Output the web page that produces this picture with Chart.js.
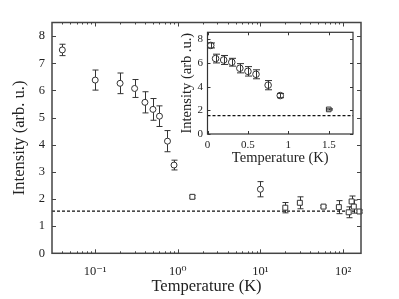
<!DOCTYPE html>
<html><head><meta charset="utf-8">
<script src="https://cdn.jsdelivr.net/npm/chart.js@4.4.1/dist/chart.umd.min.js"></script>
<style>
html,body{margin:0;padding:0;background:#fff;overflow:hidden;}
#wrap{position:relative;width:399px;height:299px;background:#fff;}
canvas{position:absolute;display:block;}
#main{left:0;top:0;}
#inset{left:176px;top:26px;}
</style></head><body>
<div id="wrap"><canvas id="main" width="399" height="299"></canvas><canvas id="inset" width="182" height="143"></canvas></div>
<script>
// ---- data ----
const lowTemps = [0.04, 0.1, 0.2, 0.3, 0.4, 0.5, 0.6, 0.75, 0.9, 10];
const lowIntensity = [7.49, 6.38, 6.26, 6.07, 5.56, 5.30, 5.05, 4.13, 3.25, 2.36];
const lowErrors = [0.21, 0.37, 0.38, 0.33, 0.39, 0.40, 0.38, 0.39, 0.18, 0.28];
const highTemps = [1.5, 20, 30, 58, 89, 117, 127, 135, 158];
const highIntensity = [2.08, 1.68, 1.86, 1.72, 1.70, 1.51, 1.91, 1.72, 1.54];
const highErrors = [0.05, 0.19, 0.22, 0.04, 0.24, 0.20, 0.20, 0.24, 0.05];
const baselineLevel = 1.55;

const mainXRange = [0.03, 165];
const mainYRange = [0, 8.5];
const mainXTickValues = [0.1, 1, 10, 100];
const mainXTickLabels = ['10\u207B\u00B9', '10\u2070', '10\u00B9', '10\u00B2'];
const mainYTickValues = [0, 1, 2, 3, 4, 5, 6, 7, 8];

const insetXRange = [0, 1.8];
const insetYRange = [0, 8.6];
const insetXTickValues = [0, 0.5, 1, 1.5];
const insetXTickLabels = ['0', '0.5', '1', '1.5'];
const insetYTickValues = [0, 2, 4, 6, 8];

const xTitle = 'Temperature (K)';
const mainYTitle = 'Intensity (arb. u.)';
const insetYTitle = 'Intensity (arb .u.)';

// ---- helpers ----
const FAM = "'Liberation Serif', 'DejaVu Serif', serif";
const INK = '#333';
const pts = (xs, ys) => xs.map((x, i) => ({x: x, y: ys[i]}));
const noPad = s => { s.paddingTop = 0; s.paddingBottom = 0; s.paddingLeft = 0; s.paddingRight = 0; };

function errorBarPlugin(hook, cap) {
  return {
    id: 'errbars',
    [hook](chart) {
      const ctx = chart.ctx, ys = chart.scales.y;
      ctx.save();
      ctx.strokeStyle = INK; ctx.lineWidth = 1;
      chart.data.datasets.forEach((ds, di) => {
        if (!ds.errors) return;
        const meta = chart.getDatasetMeta(di);
        meta.data.forEach((pt, i) => {
          const v = ds.data[i].y, e = ds.errors[i];
          const y1 = ys.getPixelForValue(v + e), y2 = ys.getPixelForValue(v - e);
          const x = Math.round(pt.x) + 0.5;
          ctx.beginPath();
          ctx.moveTo(x, y1); ctx.lineTo(x, y2);
          ctx.moveTo(x - cap, y1); ctx.lineTo(x + cap, y1);
          ctx.moveTo(x - cap, y2); ctx.lineTo(x + cap, y2);
          ctx.stroke();
        });
      });
      ctx.restore();
    }
  };
}

function framePlugin(cfg) {
  return {
    id: 'frame',
    afterDraw(chart) {
      const ctx = chart.ctx, a = chart.chartArea;
      const xs = chart.scales.x, ys = chart.scales.y;
      ctx.save();
      ctx.strokeStyle = cfg.color; ctx.lineWidth = 1;
      ctx.beginPath();
      cfg.xTicks.forEach(([v, len]) => {
        const p = Math.round(xs.getPixelForValue(v)) + 0.5;
        ctx.moveTo(p, a.bottom); ctx.lineTo(p, a.bottom - len);
        ctx.moveTo(p, a.top); ctx.lineTo(p, a.top + len);
      });
      cfg.yTicks.forEach(([v, len]) => {
        const p = Math.round(ys.getPixelForValue(v)) + 0.5;
        ctx.moveTo(a.left, p); ctx.lineTo(a.left + len, p);
        ctx.moveTo(a.right, p); ctx.lineTo(a.right - len, p);
      });
      ctx.stroke();
      ctx.lineWidth = cfg.lw;
      ctx.strokeRect(a.left, a.top, a.right - a.left, a.bottom - a.top);
      ctx.restore();
    }
  };
}

// tick marks for main log axis
const mainXMarks = mainXTickValues.map(v => [v, 4]);
for (let d = -2; d <= 2; d++) {
  for (let k = 2; k <= 9; k++) {
    const v = k * Math.pow(10, d);
    if (v > mainXRange[0] && v < mainXRange[1]) mainXMarks.push([v, 2]);
  }
}

const GRID = {display: false, drawTicks: false, tickLength: 0};

// ---- main chart ----
new Chart(document.getElementById('main'), {
  type: 'scatter',
  data: {
    datasets: [
      {label: 'low', data: pts(lowTemps, lowIntensity), errors: lowErrors,
       pointStyle: 'circle', pointRadius: 3, borderColor: INK, backgroundColor: '#fff',
       borderWidth: 1, clip: false},
      {label: 'high', data: pts(highTemps, highIntensity), errors: highErrors,
       pointStyle: 'rect', pointRadius: 3.5, borderColor: INK, backgroundColor: '#fff',
       borderWidth: 1, clip: false},
      {label: 'base', data: [{x: mainXRange[0], y: baselineLevel}, {x: mainXRange[1], y: baselineLevel}],
       showLine: true, pointRadius: 0, borderColor: '#111', borderWidth: 1.2, borderDash: [3, 2], fill: false}
    ]
  },
  options: {
    responsive: false, animation: false, devicePixelRatio: 1, events: [],
    layout: {padding: {top: 22.5, right: 38, left: 0, bottom: 0}},
    plugins: {legend: {display: false}, tooltip: {enabled: false}},
    scales: {
      x: {
        type: 'logarithmic', min: mainXRange[0], max: mainXRange[1],
        grid: GRID, border: {display: false},
        afterBuildTicks: s => { s.ticks = mainXTickValues.map(v => ({value: v})); },
        afterFit: s => { s.height = 45.7; noPad(s); },
        ticks: {autoSkip: false, maxRotation: 0, padding: 11, color: '#222',
                font: {family: FAM, size: 12.5}, callback: (v, i) => mainXTickLabels[i]},
        title: {display: true, text: xTitle, color: '#222', font: {family: FAM, size: 16.5},
                padding: {top: 0, bottom: 2}}
      },
      y: {
        type: 'linear', min: mainYRange[0], max: mainYRange[1],
        grid: GRID, border: {display: false},
        afterBuildTicks: s => { s.ticks = mainYTickValues.map(v => ({value: v})); },
        afterFit: s => { s.width = 52; noPad(s); },
        ticks: {autoSkip: false, padding: 7, color: '#222', font: {family: FAM, size: 12.5}},
        title: {display: true, text: mainYTitle, color: '#222', font: {family: FAM, size: 16.5},
                padding: {top: 10, bottom: 0}}
      }
    }
  },
  plugins: [errorBarPlugin('beforeDatasetsDraw', 3),
            framePlugin({color: '#444', lw: 1.5, xTicks: mainXMarks,
                         yTicks: mainYTickValues.map(v => [v, 4])})]
});

// ---- inset chart ----
const insetIdxLow = lowTemps.map((t, i) => i).filter(i => lowTemps[i] <= insetXRange[1]);
const insetIdxHigh = highTemps.map((t, i) => i).filter(i => highTemps[i] <= insetXRange[1]);

new Chart(document.getElementById('inset'), {
  type: 'scatter',
  data: {
    datasets: [
      {label: 'low', data: insetIdxLow.map(i => ({x: lowTemps[i], y: lowIntensity[i]})),
       errors: insetIdxLow.map(i => lowErrors[i]),
       pointStyle: 'circle', pointRadius: 3.3, borderColor: INK, backgroundColor: 'rgba(0,0,0,0)',
       borderWidth: 1, clip: false},
      {label: 'high', data: insetIdxHigh.map(i => ({x: highTemps[i], y: highIntensity[i]})),
       errors: insetIdxHigh.map(i => highErrors[i]),
       pointStyle: 'rect', pointRadius: 3.3, borderColor: INK, backgroundColor: 'rgba(0,0,0,0)',
       borderWidth: 1, clip: false},
      {label: 'base', data: [{x: insetXRange[0], y: baselineLevel}, {x: insetXRange[1], y: baselineLevel}],
       showLine: true, pointRadius: 0, borderColor: '#111', borderWidth: 1.2, borderDash: [3, 2], fill: false}
    ]
  },
  options: {
    responsive: false, animation: false, devicePixelRatio: 1, events: [],
    layout: {padding: {top: 6.3, right: 2.3, left: 0, bottom: 0}},
    plugins: {legend: {display: false}, tooltip: {enabled: false}},
    scales: {
      x: {
        type: 'linear', min: insetXRange[0], max: insetXRange[1],
        grid: GRID, border: {display: false},
        afterBuildTicks: s => { s.ticks = insetXTickValues.map(v => ({value: v})); },
        afterFit: s => { s.height = 35; noPad(s); },
        ticks: {autoSkip: false, maxRotation: 0, padding: 4.5, color: '#222',
                font: {family: FAM, size: 11}, callback: (v, i) => insetXTickLabels[i]},
        title: {display: true, text: xTitle, color: '#222', font: {family: FAM, size: 14.5},
                padding: {top: 0, bottom: 2}}
      },
      y: {
        type: 'linear', min: insetYRange[0], max: insetYRange[1],
        grid: GRID, border: {display: false},
        afterBuildTicks: s => { s.ticks = insetYTickValues.map(v => ({value: v})); },
        afterFit: s => { s.width = 31.5; noPad(s); },
        ticks: {autoSkip: false, padding: 4.5, color: '#222', font: {family: FAM, size: 11}},
        title: {display: true, text: insetYTitle, color: '#222', font: {family: FAM, size: 14.5},
                padding: {top: 2, bottom: 0}}
      }
    }
  },
  plugins: [errorBarPlugin('afterDatasetsDraw', 3.5),
            framePlugin({color: '#333', lw: 1.2,
                         xTicks: insetXTickValues.map(v => [v, 3]),
                         yTicks: insetYTickValues.map(v => [v, 3])})]
});
</script>
</body></html>
